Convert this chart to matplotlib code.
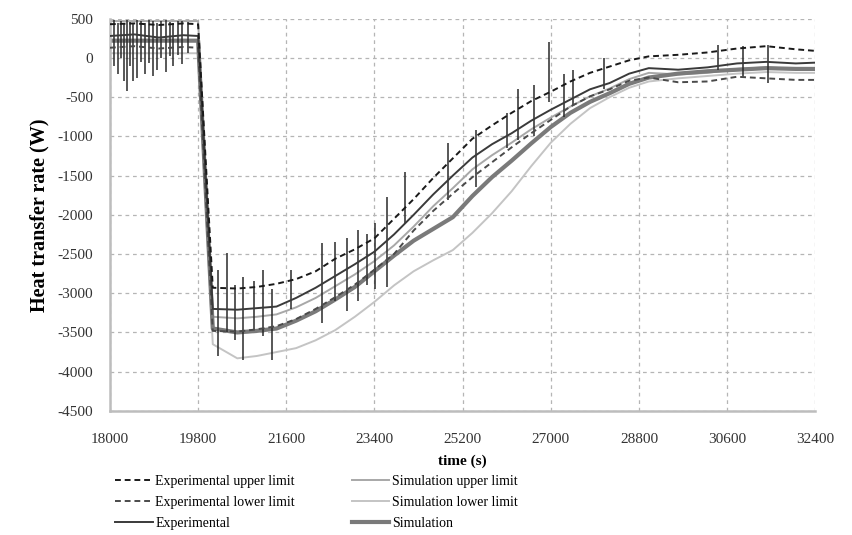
import matplotlib
matplotlib.use("Agg")
import matplotlib.pyplot as plt
import numpy as np

plt.rcParams["font.family"] = ["Liberation Serif", "DejaVu Serif"]
plt.rcParams["axes.unicode_minus"] = False

# time knots (s)
t = [18000, 18500, 19000, 19500, 19800, 20100, 20600, 21000, 21400, 21800,
     22200, 22600, 23000, 23400, 23800, 24200, 24600, 25000, 25400, 25800,
     26200, 26600, 27000, 27400, 27800, 28200, 28600, 29000, 29600, 30200,
     30800, 31400, 32000, 32400]

exp_upper = [430, 440, 420, 440, 430,
             -2930, -2940, -2920, -2880, -2820, -2720, -2560, -2440, -2300, -2050,
             -1800, -1530, -1280, -1030, -860, -700, -550, -430, -300, -190,
             -110, -30, 20, 40, 70, 120, 150, 110, 90]
exp_lower = [130, 150, 120, 140, 130,
             -3480, -3490, -3460, -3420, -3330, -3200, -3050, -2890, -2700, -2500,
             -2200, -1950, -1730, -1520, -1330, -1140, -960, -790, -620, -490,
             -400, -290, -250, -310, -300, -240, -260, -280, -280]
exp_mean = [280, 300, 260, 290, 280,
            -3200, -3210, -3190, -3170, -3060, -2930, -2780, -2630, -2470, -2250,
            -2000, -1740, -1500, -1270, -1100, -960, -800, -660, -530, -400,
            -320, -200, -130, -150, -120, -70, -50, -70, -60]
sim_upper = [470, 470, 470, 470, 470,
             -3300, -3320, -3300, -3270, -3180, -3060, -2910, -2760, -2590, -2390,
             -2150, -1890, -1660, -1420, -1240, -1080, -910, -760, -620, -490,
             -390, -270, -190, -210, -190, -140, -120, -140, -130]
sim_lower = [60, 60, 60, 60, 60,
             -3650, -3830, -3800, -3750, -3700, -3600, -3470, -3300, -3110, -2900,
             -2720, -2580, -2450, -2230, -1980, -1700, -1380, -1080, -840, -640,
             -500, -380, -300, -260, -230, -200, -180, -190, -190]
sim_mean = [220, 220, 220, 220, 220,
            -3450, -3500, -3480, -3450, -3350, -3230, -3080, -2920, -2720, -2520,
            -2330, -2180, -2030, -1760, -1520, -1310, -1090, -880, -700, -560,
            -450, -330, -250, -200, -170, -150, -130, -140, -140]

# measurement noise spikes on the experimental signal
spike_t = [18080, 18164, 18230, 18286, 18348, 18410, 18470, 18552, 18630, 18716,
           18800, 18880, 18961, 19050, 19145, 19220, 19288, 19380, 19472, 19600,
           20209, 20393, 20560, 20720, 20950, 21129, 21313, 21700, 22335, 22600,
           22847, 23072, 23250, 23420, 23665, 24033, 24892, 25464, 26100, 26323,
           26650, 26957, 27264, 27448, 28082, 30413, 30925, 31436]
spike_lo = [-100, -200, 0, -300, -420, -100, -300, -250, -50, -200,
            -60, -230, -150, 0, -180, 20, -100, 40, -80, 60,
            -3800, -3500, -3600, -3850, -3450, -3550, -3850, -3200, -3380, -3100,
            -3230, -3100, -2900, -2950, -2920, -2100, -1810, -1640, -1150, -1040,
            -1000, -560, -750, -600, -400, -150, -250, -320]
spike_hi = [480, 450, 470, 450, 480, 460, 450, 480, 470, 450,
            480, 470, 450, 470, 480, 460, 450, 470, 470, 460,
            -2700, -2490, -2900, -2790, -2850, -2700, -2950, -2700, -2360, -2350,
            -2300, -2200, -2250, -2100, -1770, -1450, -1080, -920, -700, -400,
            -350, 200, -200, -150, 0, 170, 150, 170]

fig = plt.figure(figsize=(8.52, 5.35), dpi=100)
ax = fig.add_axes([0.129, 0.232, 0.828, 0.733])

ax.vlines(spike_t, spike_lo, spike_hi, color="#2a2a2a", lw=1.1, zorder=3)
ax.plot(t, sim_lower, color="#c4c4c4", lw=1.4, label="Simulation lower limit", zorder=2)
ax.plot(t, sim_upper, color="#a8a8a8", lw=1.4, label="Simulation upper limit", zorder=2)
ax.plot(t, sim_mean, color="#7a7a7a", lw=3.0, label="Simulation", zorder=2)
ax.plot(t, exp_lower, color="#4a4a4a", lw=1.4, ls=(0, (3, 2)),
        label="Experimental lower limit", zorder=3)
ax.plot(t, exp_mean, color="#3a3a3a", lw=1.4, label="Experimental", zorder=3)
ax.plot(t, exp_upper, color="#1a1a1a", lw=1.4, ls=(0, (3, 2)),
        label="Experimental upper limit", zorder=3)

ax.set_xlim(18000, 32400)
ax.set_ylim(-4500, 500)
ax.set_xticks(np.arange(18000, 32401, 1800))
ax.set_yticks(np.arange(-4500, 501, 500))
ax.grid(True, color="#b5b5b5", lw=0.9, ls=(0, (3, 3)))
ax.set_axisbelow(True)
for s in ("top", "right"):
    ax.spines[s].set_visible(False)
for s in ("left", "bottom"):
    ax.spines[s].set_color("#bdbdbd")
    ax.spines[s].set_linewidth(1.8)
ax.tick_params(length=0, labelsize=11, colors="#333333", pad=12)
ax.tick_params(axis="x", pad=16)

ax.set_xlabel("time (s)", fontsize=11, fontweight="bold", labelpad=6)
ax.set_ylabel("Heat transfer rate (W)", fontsize=14.5, fontweight="bold", labelpad=6)

h, l = ax.get_legend_handles_labels()
order = ["Experimental upper limit", "Experimental lower limit", "Experimental",
         "Simulation upper limit", "Simulation lower limit", "Simulation"]
hs = [h[l.index(k)] for k in order]
fig.legend(hs, order, loc="upper left", bbox_to_anchor=(0.135, 0.112), ncol=2,
           frameon=False, fontsize=10, handlelength=2.7, handletextpad=0.2,
           columnspacing=4.1, labelspacing=0.57, borderaxespad=0, borderpad=0)

fig.savefig("out.png", dpi=100)
